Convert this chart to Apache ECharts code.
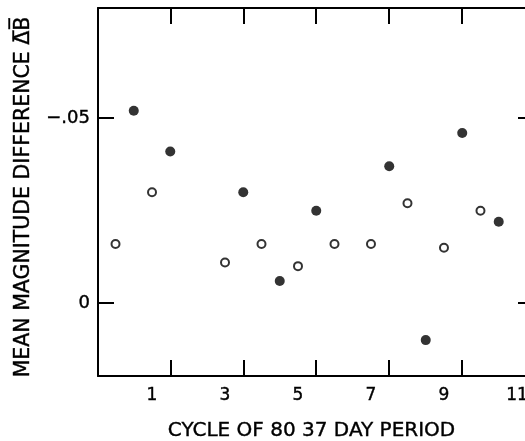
<!DOCTYPE html>
<html>
<head>
<meta charset="utf-8">
<script src="https://cdn.jsdelivr.net/npm/echarts@6/dist/echarts.min.js"></script>
<style>html,body{margin:0;padding:0;background:#fff;}#c{width:525px;height:441px;}</style>
</head>
<body>
<div id="c"></div>
<script>
// Open circles (integer cycles)
const openX = [0, 1, 3, 4, 5, 6, 7, 8, 9, 10];
const openY = [-0.016, -0.030, -0.011, -0.016, -0.010, -0.016, -0.016, -0.027, -0.015, -0.025];
// Filled circles (half cycles)
const filledX = [0.5, 1.5, 3.5, 4.5, 5.5, 7.5, 8.5, 9.5, 10.5];
const filledY = [-0.052, -0.041, -0.030, -0.006, -0.025, -0.037, 0.010, -0.046, -0.022];
const xTickLabels = [1, 3, 5, 7, 9, 11];
const xTickMarks = [1.5, 3.5, 5.5, 7.5, 9.5];
const yTickValues = [-0.05, 0];

const FONT = 'DejaVu Sans';
const chart = echarts.init(document.getElementById('c'), null, {renderer: 'canvas'});
const zip = (xs, ys) => xs.map((x, i) => [x, ys[i]]);
const txt = (size) => ({fontFamily: FONT, fontSize: size, color: '#000', textBorderColor: '#000', textBorderWidth: 0.4});

const xCommon = {
  type: 'value', min: -0.48, max: 11.22,
  splitLine: {show: false},
  axisLine: {show: true, onZero: false, lineStyle: {color: '#000', width: 2}}
};
const yCommon = {
  type: 'value', min: -0.0798, max: 0.0197, inverse: true,
  splitLine: {show: false}
};

chart.setOption({
  backgroundColor: '#fff',
  animation: false,
  grid: {left: 98, top: 8, right: 0, bottom: 65, containLabel: false, outerBoundsMode: 'none'},
  xAxis: [
    Object.assign({}, xCommon, {
      position: 'bottom',
      name: 'CYCLE OF 80 37 DAY PERIOD',
      nameLocation: 'middle', nameGap: 45,
      nameTextStyle: txt(20),
      axisTick: {show: true, inside: true, length: 16, customValues: xTickMarks, lineStyle: {color: '#000', width: 2}},
      axisLabel: Object.assign({show: true, customValues: xTickLabels, margin: 11}, txt(17))
    }),
    Object.assign({}, xCommon, {
      position: 'top',
      axisTick: {show: true, inside: true, length: 16, customValues: xTickMarks, lineStyle: {color: '#000', width: 2}},
      axisLabel: {show: false}
    })
  ],
  yAxis: [
    Object.assign({}, yCommon, {
      position: 'left',
      name: 'MEAN MAGNITUDE DIFFERENCE \u0394\u0305B\u0305',
      nameLocation: 'middle', nameGap: 64, nameRotate: 90,
      nameTextStyle: Object.assign(txt(20.5), {padding: [0, 10, 0, 0]}),
      axisLine: {show: true, onZero: false, lineStyle: {color: '#000', width: 2}},
      axisTick: {show: true, inside: true, length: 16, customValues: yTickValues, lineStyle: {color: '#000', width: 2}},
      axisLabel: Object.assign({show: true, customValues: yTickValues, margin: 8,
        formatter: v => (v === 0 ? '0' : String(v).replace('-0.', '\u2212.'))}, txt(18))
    }),
    Object.assign({}, yCommon, {
      position: 'right',
      axisLine: {show: false, onZero: false},
      axisTick: {show: true, inside: true, length: 7, customValues: yTickValues, lineStyle: {color: '#000', width: 2}},
      axisLabel: {show: false}
    })
  ],
  series: [
    {
      type: 'scatter', xAxisIndex: 0, yAxisIndex: 0,
      data: zip(openX, openY), symbol: 'circle', symbolSize: 8,
      itemStyle: {color: '#fff', borderColor: '#000', borderWidth: 2}
    },
    {
      type: 'scatter', xAxisIndex: 0, yAxisIndex: 0,
      data: zip(filledX, filledY), symbol: 'circle', symbolSize: 10,
      itemStyle: {color: '#000'}
    }
  ]
});
</script>
</body>
</html>
